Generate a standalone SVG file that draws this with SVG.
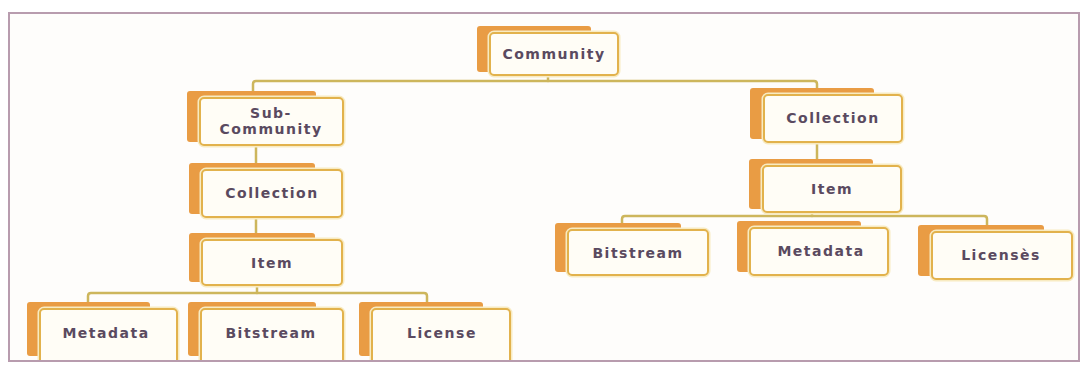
<svg xmlns="http://www.w3.org/2000/svg" width="1089" height="365" viewBox="0 0 1089 365">
  <style>
    .back { fill: #e99c44; }
    .halo { fill: none; stroke: #f8ebc2; stroke-width: 5; }
    .front { fill: #fffdf6; stroke: #e2b24c; stroke-width: 2; }
    .label { font-family: "DejaVu Sans", "Liberation Sans", sans-serif; font-weight: bold; font-size: 14px; letter-spacing: 1.5px; fill: #5a4a60; text-anchor: middle; }
    .link { fill: none; stroke: #cdb65c; stroke-width: 2.5; stroke-linecap: round; }
  </style>
  <defs>
    <clipPath id="inside">
      <rect x="0" y="0" width="1089" height="360"/>
    </clipPath>
  </defs>

  <rect x="0" y="0" width="1089" height="365" fill="#ffffff"/>
  <rect x="9" y="13" width="1070" height="348" fill="#fefdfb" stroke="#b89cae" stroke-width="2"/>

  <!-- connectors -->
  <g id="connectors">
    <path class="link" d="M548,75 V81"/>
    <path class="link" d="M253,92 V84 Q253,81 256,81 H814 Q817,81 817,84 V88"/>
    <path class="link" d="M256,145 V163"/>
    <path class="link" d="M256,217 V233"/>
    <path class="link" d="M257,285 V293"/>
    <path class="link" d="M88,302 V296 Q88,293 91,293 H424 Q427,293 427,296 V302"/>
    <path class="link" d="M817,142 V159"/>
    <path class="link" d="M812,212 V216"/>
    <path class="link" d="M622,223 V219 Q622,216 625,216 H984 Q987,216 987,219 V225"/>
  </g>

  <!-- left branch -->
  <g id="community">
    <rect class="back" x="477" y="26" width="114" height="46" rx="3"/>
    <rect class="halo" x="490" y="33" width="128" height="42" rx="4"/>
    <rect class="front" x="490" y="33" width="128" height="42" rx="4"/>
    <text class="label" x="554" y="59">Community</text>
  </g>

  <g id="sub-community">
    <rect class="back" x="187" y="91" width="129" height="51" rx="3"/>
    <rect class="halo" x="200" y="98" width="143" height="47" rx="4"/>
    <rect class="front" x="200" y="98" width="143" height="47" rx="4"/>
    <text class="label" x="271" y="118">Sub-</text>
    <text class="label" x="271" y="134">Community</text>
  </g>

  <g id="collection-left">
    <rect class="back" x="189" y="163" width="126" height="51" rx="3"/>
    <rect class="halo" x="202" y="170" width="140" height="47" rx="4"/>
    <rect class="front" x="202" y="170" width="140" height="47" rx="4"/>
    <text class="label" x="272" y="198">Collection</text>
  </g>

  <g id="item-left">
    <rect class="back" x="189" y="233" width="126" height="49" rx="3"/>
    <rect class="halo" x="202" y="240" width="140" height="45" rx="4"/>
    <rect class="front" x="202" y="240" width="140" height="45" rx="4"/>
    <text class="label" x="272" y="268">Item</text>
  </g>

  <g clip-path="url(#inside)">
    <g id="metadata-left">
      <rect class="back" x="27" y="302" width="123" height="54" rx="3"/>
      <rect class="halo" x="40" y="309" width="137" height="60" rx="4"/>
      <rect class="front" x="40" y="309" width="137" height="60" rx="4"/>
      <text class="label" x="106" y="338">Metadata</text>
    </g>

    <g id="bitstream-left">
      <rect class="back" x="188" y="302" width="128" height="54" rx="3"/>
      <rect class="halo" x="201" y="309" width="142" height="60" rx="4"/>
      <rect class="front" x="201" y="309" width="142" height="60" rx="4"/>
      <text class="label" x="271" y="338">Bitstream</text>
    </g>

    <g id="license-left">
      <rect class="back" x="359" y="302" width="124" height="54" rx="3"/>
      <rect class="halo" x="372" y="309" width="138" height="60" rx="4"/>
      <rect class="front" x="372" y="309" width="138" height="60" rx="4"/>
      <text class="label" x="442" y="338">License</text>
    </g>
  </g>

  <!-- right branch -->
  <g id="collection-right">
    <rect class="back" x="750" y="88" width="124" height="51" rx="3"/>
    <rect class="halo" x="764" y="95" width="138" height="47" rx="4"/>
    <rect class="front" x="764" y="95" width="138" height="47" rx="4"/>
    <text class="label" x="833" y="123">Collection</text>
  </g>

  <g id="item-right">
    <rect class="back" x="749" y="159" width="124" height="50" rx="3"/>
    <rect class="halo" x="763" y="166" width="138" height="46" rx="4"/>
    <rect class="front" x="763" y="166" width="138" height="46" rx="4"/>
    <text class="label" x="832" y="194">Item</text>
  </g>

  <g id="bitstream-right">
    <rect class="back" x="555" y="223" width="126" height="49" rx="3"/>
    <rect class="halo" x="568" y="230" width="140" height="45" rx="4"/>
    <rect class="front" x="568" y="230" width="140" height="45" rx="4"/>
    <text class="label" x="638" y="258">Bitstream</text>
  </g>

  <g id="metadata-right">
    <rect class="back" x="737" y="221" width="124" height="51" rx="3"/>
    <rect class="halo" x="750" y="228" width="138" height="47" rx="4"/>
    <rect class="front" x="750" y="228" width="138" height="47" rx="4"/>
    <text class="label" x="821" y="256">Metadata</text>
  </g>

  <g id="licenses-right">
    <rect class="back" x="918" y="225" width="126" height="51" rx="3"/>
    <rect class="halo" x="932" y="232" width="140" height="47" rx="4"/>
    <rect class="front" x="932" y="232" width="140" height="47" rx="4"/>
    <text class="label" x="1001" y="260">Licensès</text>
  </g>
</svg>
